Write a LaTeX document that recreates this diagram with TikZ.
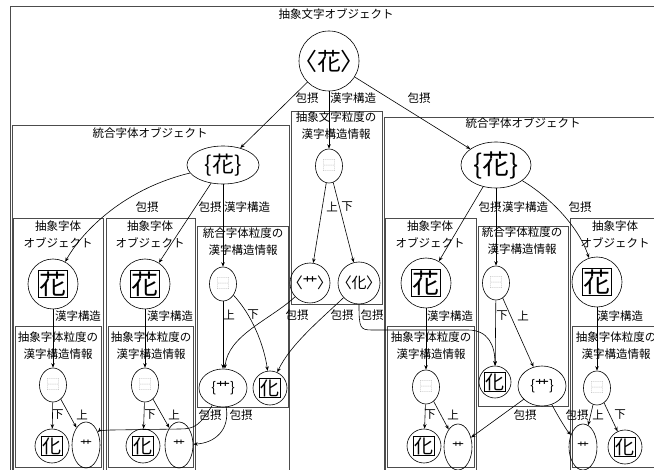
\documentclass[tikz,border=0pt]{standalone}
\usepackage{fontspec}
\setmainfont{Noto Sans CJK JP}
\newfontfamily\jpp[RawFeature=+palt]{Noto Sans CJK JP}
\usetikzlibrary{arrows.meta,shapes.geometric}
\definecolor{boxc}{gray}{0.3}
\definecolor{idcc}{gray}{0.6}
\newcommand{\frch}[2]{{\fontsize{#1}{#1}\selectfont\setlength\fboxsep{0.6pt}\setlength\fboxrule{1pt}\fbox{#2}}}
\newcommand{\idcg}{{\color{idcc}\fontsize{13}{13}\selectfont ⿱}}
\newcommand{\grs}{{\fontsize{12}{12}\selectfont 艹}}
\begin{document}
\begin{tikzpicture}[x=1pt,y=-1pt,
  font=\fontsize{11.5}{13}\selectfont,
  frame/.style={draw=boxc,line width=1pt},
  ttl/.style={align=center,inner sep=0pt,font=\fontsize{11.5}{17}\selectfont},
  lab/.style={inner sep=0pt},
  nd/.style={draw,line width=0.6pt,inner sep=0pt},
  cnode/.style={nd,circle,minimum size=#1},
  enode/.style 2 args={nd,ellipse,minimum width=#1,minimum height=#2},
  con/.style={-{Stealth[length=4.5pt,width=3.5pt]},line width=0.6pt},
]
\useasboundingbox (0,0) rectangle (654,470);
% frames
\draw[frame] (10,480) -- (10,7) -- (660,7);
\draw[frame] (12,126) rectangle (289,480);
\draw[frame] (291,112) rectangle (382,305);
\draw[frame] (384,118) rectangle (662,480);
\draw[frame] (13,219) rectangle (103,480);
\draw[frame] (106,219) rectangle (195,480);
\draw[frame] (197,227) rectangle (288,408);
\draw[frame] (385,219) rectangle (476,480);
\draw[frame] (478,227) rectangle (568,407);
\draw[frame] (570,219) rectangle (664,480);
\draw[frame] (15,327) rectangle (101,468);
\draw[frame] (108,327) rectangle (193,468);
\draw[frame] (387,327) rectangle (474,468);
\draw[frame] (572,327) rectangle (664,468);
% titles
\node[lab] (t0) at (336,14) {抽象文字オブジェクト};
\node[lab] (t1) at (150,133) {統合字体オブジェクト};
\node[lab] (t2) at (523,123) {統合字体オブジェクト};
\node[ttl] (t3) at (336,126) {抽象文字粒度の\\漢字構造情報};
\node[ttl] (t4) at (243,242) {統合字体粒度の\\漢字構造情報};
\node[ttl] (t5) at (522,241) {統合字体粒度の\\漢字構造情報};
\node[ttl] (t6) at (58,234) {抽象字体\\オブジェクト};
\node[ttl] (t7) at (150,234) {抽象字体\\オブジェクト};
\node[ttl] (t8) at (430,234) {抽象字体\\オブジェクト};
\node[ttl] (t9) at (615,234) {抽象字体\\オブジェクト};
\node[ttl] (t10) at (58,346) {抽象字体粒度の\\漢字構造情報};
\node[ttl] (t11) at (151,346) {抽象字体粒度の\\漢字構造情報};
\node[ttl] (t12) at (431,346) {抽象字体粒度の\\漢字構造情報};
\node[ttl] (t13) at (616,346) {抽象字体粒度の\\漢字構造情報};
% nodes
\node[cnode=60] (top) at (329,61) {\jpp\fontsize{24}{24}\selectfont 〈花〉};
\node[enode={72}{38}] (lF) at (223,165) {\fontsize{22}{22}\selectfont\{花\}};
\node[enode={70}{46}] (rF) at (496,165) {\fontsize{27}{27}\selectfont\{花\}};
\node[enode={27}{34}] (mQ) at (329,166) {\idcg};
\node[cnode=40] (mH) at (310,283) {\jpp\fontsize{15}{15}\selectfont 〈艹〉};
\node[cnode=42] (mK) at (359,283) {\jpp\fontsize{15}{15}\selectfont 〈化〉};
\node[cnode=50] (l1F) at (53,284) {\frch{27}{花}};
\node[cnode=50] (l2F) at (145,284) {\frch{27}{花}};
\node[cnode=50] (raF) at (426,283) {\frch{27}{花}};
\node[cnode=50] (rcF) at (597,282) {\frch{27}{花}};
\node[enode={27}{34}] (l1Q) at (53,385) {\idcg};
\node[enode={27}{34}] (l2Q) at (145,385) {\idcg};
\node[enode={27}{34}] (raQ) at (426,387) {\idcg};
\node[enode={27}{34}] (rcQ) at (597,388) {\idcg};
\node[enode={27}{34}] (lbQ) at (223,284) {\idcg};
\node[enode={27}{34}] (rbQ) at (496,283) {\idcg};
\node[cnode=34] (l1K) at (52,446) {\frch{19}{化}};
\node[enode={28}{46}] (l1H) at (86,445) {\grs};
\node[cnode=34] (l2K) at (143,446) {\frch{19}{化}};
\node[enode={28}{46}] (l2H) at (179,445) {\grs};
\node[cnode=34] (raK) at (424,446) {\frch{19}{化}};
\node[enode={28}{46}] (raH) at (458,447) {\grs};
\node[enode={28}{46}] (rcH) at (583,447) {\grs};
\node[cnode=34] (rcK) at (625,447) {\frch{19}{化}};
\node[enode={48}{38}] (lbS) at (223,388) {\fontsize{14}{14}\selectfont\{艹\}};
\node[cnode=34] (lbK) at (270,388) {\frch{19}{化}};
\node[cnode=32] (rbK) at (495,382) {\frch{19}{化}};
\node[enode={48}{40}] (rbS) at (542,386) {\fontsize{14}{14}\selectfont\{艹\}};
% labels
\node[lab] (a1) at (307,98) {包摂};
\node[lab] (a2) at (353,98) {漢字構造};
\node[lab] (a3) at (419,98) {包摂};
\node[lab] (a4) at (147,207) {包摂};
\node[lab] (a5) at (210,207) {包摂};
\node[lab] (a6) at (247,207) {漢字構造};
\node[lab] (a7) at (490,207) {包摂};
\node[lab] (a8) at (525,207) {漢字構造};
\node[lab] (a9) at (580,207) {包摂};
\node[lab] (a10) at (332,207) {上};
\node[lab] (a11) at (347,207) {下};
\node[lab] (a12) at (78,316) {漢字構造};
\node[lab] (a13) at (170,316) {漢字構造};
\node[lab] (a14) at (450,316) {漢字構造};
\node[lab] (a15) at (620,316) {漢字構造};
\node[lab] (a16) at (229,315) {上};
\node[lab] (a17) at (253,315) {下};
\node[lab] (a18) at (502,316) {下};
\node[lab] (a19) at (523,316) {上};
\node[lab] (a20) at (297,315) {包摂};
\node[lab] (a21) at (342,315) {包摂};
\node[lab] (a22) at (372,315) {包摂};
\node[lab] (a23) at (58,415) {下};
\node[lab] (a24) at (82,415) {上};
\node[lab] (a25) at (150,415) {下};
\node[lab] (a26) at (174,415) {上};
\node[lab] (a27) at (430,415) {下};
\node[lab] (a28) at (453,415) {上};
\node[lab] (a29) at (598,415) {上};
\node[lab] (a30) at (620,415) {下};
\node[lab] (a31) at (210,415) {包摂};
\node[lab] (a32) at (241,415) {包摂};
\node[lab] (a33) at (525,415) {包摂};
\node[lab] (a34) at (577,415) {包摂};
% connectors
\draw[con] (top) -- (lF);
\draw[con] (top) -- (mQ);
\draw[con] (top) -- (rF);
\draw[con] (lF) .. controls (120,190) and (80,235) .. (l1F);
\draw[con] (lF) -- (l2F);
\draw[con] (lF) -- (lbQ);
\draw[con] (rF) -- (raF);
\draw[con] (rF) -- (rbQ);
\draw[con] (rF) .. controls (548,196) and (578,225) .. (rcF);
\draw[con] (l1F) -- (l1Q);
\draw[con] (l2F) -- (l2Q);
\draw[con] (raF) -- (raQ);
\draw[con] (rcF) -- (rcQ);
\draw[con] (l1Q) -- (l1K);
\draw[con] (l1Q) -- (l1H);
\draw[con] (l2Q) -- (l2K);
\draw[con] (l2Q) -- (l2H);
\draw[con] (raQ) -- (raK);
\draw[con] (raQ) -- (raH);
\draw[con] (rcQ) -- (rcH);
\draw[con] (rcQ) -- (rcK);
\draw[con] (mQ) -- (mH);
\draw[con] (mQ) -- (mK);
\draw[con] (lbQ) -- (lbS);
\draw[con] (lbQ) .. controls (252,315) and (264,345) .. (lbK);
\draw[con] (rbQ) -- (rbK);
\draw[con] (rbQ) -- (rbS);
\draw[con] (mH) .. controls (270,320) and (228,335) .. (lbS);
\draw[con] (mK) .. controls (320,320) and (290,345) .. (lbK);
\draw[con] (mK.south) .. controls (359,328) and (360,330) .. (372,330) -- (468,330) .. controls (488,330) and (495,345) .. (rbK);
\draw[con] (lbS) .. controls (200,425) and (195,429) .. (180,429) -- (112,430) .. controls (102,430) and (98,432) .. (l1H);
\draw[con] (lbS) .. controls (230,430) and (215,443) .. (l2H);
\draw[con] (rbS) -- (raH);
\draw[con] (rbS) .. controls (560,420) and (568,432) .. (rcH);
\end{tikzpicture}
\end{document}
